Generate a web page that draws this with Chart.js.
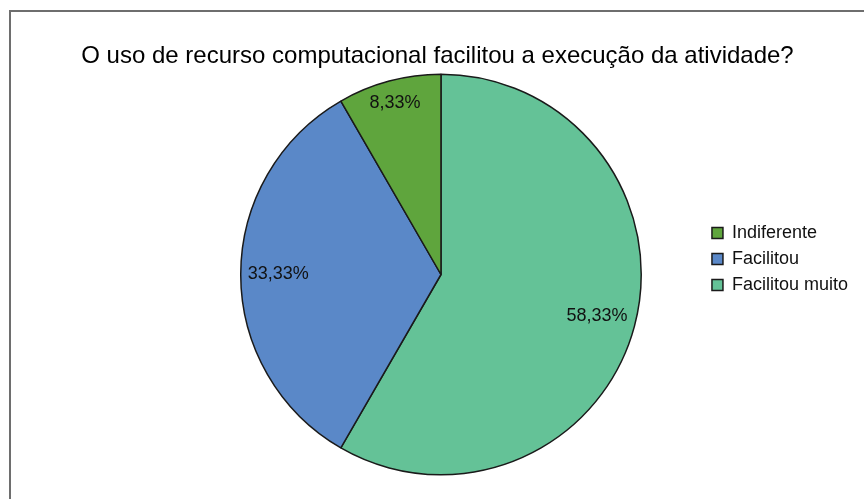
<!DOCTYPE html>
<html><head><meta charset="utf-8">
<script src="https://cdn.jsdelivr.net/npm/chart.js@4.4.1/dist/chart.umd.min.js"></script>
<style>html,body{margin:0;padding:0;background:#fff;overflow:hidden}canvas{display:block}</style>
</head><body>
<canvas id="c" width="864" height="499"></canvas>
<script>
const titleText = 'O uso de recurso computacional facilitou a execução da atividade?';
// drawing order (clockwise from 12 o'clock); legend shown reversed
const categories = ['Facilitou muito', 'Facilitou', 'Indiferente'];
const percentages = [58.33, 33.33, 8.33];
const sliceColors = ['#64c297', '#5a88c8', '#5fa53d'];

const FONT = '"Liberation Sans", Arial, sans-serif';

const framePlugin = {
  id: 'frame',
  beforeDraw(chart) {
    const ctx = chart.ctx;
    ctx.save();
    ctx.fillStyle = '#ffffff';
    ctx.fillRect(0, 0, chart.width, chart.height);
    ctx.fillStyle = '#6e6e6e';
    ctx.fillRect(9, 10, 2, chart.height - 10);
    ctx.fillRect(9, 10, chart.width - 9, 2);
    // chart title
    ctx.fillStyle = '#000000';
    ctx.font = '24px ' + FONT;
    ctx.textAlign = 'center';
    ctx.textBaseline = 'middle';
    ctx.fillText(titleText, 437.5, 56);
    ctx.restore();
  }
};

const sliceLabels = {
  id: 'sliceLabels',
  afterDatasetsDraw(chart) {
    const ctx = chart.ctx;
    const meta = chart.getDatasetMeta(0);
    const values = chart.data.datasets[0].data;
    ctx.save();
    ctx.font = '18px ' + FONT;
    ctx.fillStyle = '#111111';
    ctx.textAlign = 'center';
    ctx.textBaseline = 'middle';
    meta.data.forEach((arc, i) => {
      const p = arc.getProps(['x', 'y', 'startAngle', 'endAngle', 'outerRadius'], true);
      const mid = (p.startAngle + p.endAngle) / 2;
      const cx = Math.cos(mid), cy = Math.sin(mid);
      const text = values[i].toFixed(2).replace('.', ',') + '%';
      const w = ctx.measureText(text).width;
      const h = 18;
      const d = p.outerRadius * 0.965 - (Math.abs(cx) * w / 2 + Math.abs(cy) * h / 2);
      ctx.fillText(text, p.x + cx * d, p.y + cy * d);
    });
    ctx.restore();
  }
};

new Chart(document.getElementById('c'), {
  type: 'pie',
  data: {
    labels: categories,
    datasets: [{
      data: percentages,
      backgroundColor: sliceColors,
      borderColor: '#1a1a1a',
      borderWidth: 1.5
    }]
  },
  plugins: [framePlugin, sliceLabels],
  options: {
    responsive: false,
    animation: false,
    devicePixelRatio: 1,
    layout: { padding: { left: 178, right: 6, top: 73.5, bottom: 23.5 } },
    plugins: {
      title: { display: false },
      legend: {
        position: 'right',
        fullSize: false,
        reverse: true,
        align: 'start',
        title: { display: true, text: '', font: { size: 12 }, padding: { top: 128, bottom: 0 } },
        labels: {
          color: '#111111',
          font: { family: FONT, size: 18 },
          boxWidth: 11,
          boxHeight: 11,
          padding: 8
        }
      },
      tooltip: { enabled: false }
    }
  }
});
</script>
</body></html>
